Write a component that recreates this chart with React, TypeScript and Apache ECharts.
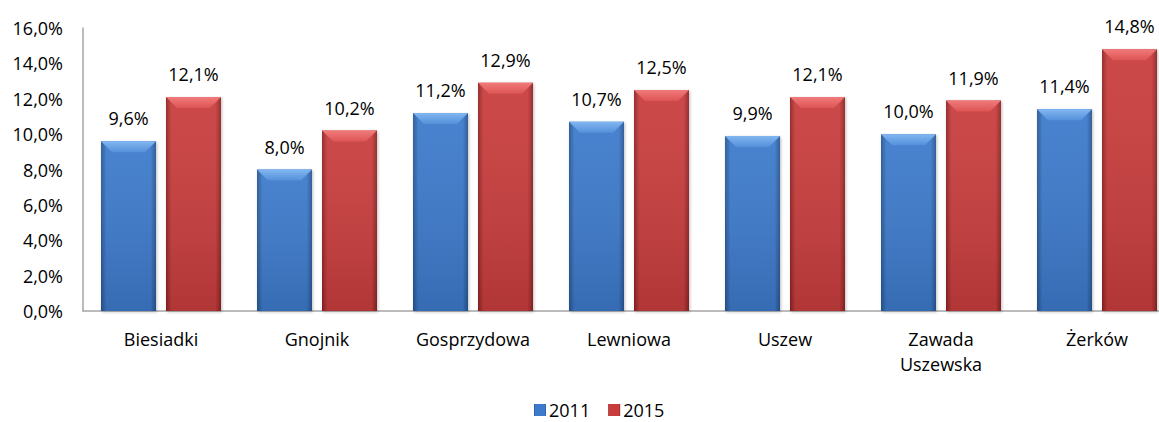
import React, { useEffect, useRef } from "react";
import * as echarts from "echarts";

const categories = ["Biesiadki", "Gnojnik", "Gosprzydowa", "Lewniowa", "Uszew", "Zawada\nUszewska", "Żerków"];
const values2011 = [9.6, 8.0, 11.2, 10.7, 9.9, 10.0, 11.4];
const values2015 = [12.1, 10.2, 12.9, 12.5, 12.1, 11.9, 14.8];
const seriesNames = ["2011", "2015"];

const FONT = "'Open Sans', sans-serif";
const BAR_W = 55;
const GAP = 10;

const fmt = (v: number) => v.toFixed(1).replace(".", ",") + "%";

const hGrad = (edge: string, mid: string) => ({
  type: "linear", x: 0, y: 0, x2: 1, y2: 0,
  colorStops: [
    { offset: 0, color: edge },
    { offset: 0.1, color: mid },
    { offset: 0.9, color: mid },
    { offset: 1, color: edge },
  ],
});

const vGrad = (a: string, b: string) => ({
  type: "linear", x: 0, y: 0, x2: 0, y2: 1,
  colorStops: [
    { offset: 0, color: a },
    { offset: 1, color: b },
  ],
});

function bevel(offset: number, light: string, mid: string) {
  return (params: any, api: any) => {
    const i = api.value(0);
    const v = api.value(1);
    const base = api.coord([i, 0]);
    const top = api.coord([i, v]);
    const cx = base[0] + offset;
    const x0 = cx - BAR_W / 2;
    const x1 = cx + BAR_W / 2;
    const y0 = top[1];
    const b = 11;
    return {
      type: "group",
      children: [
        {
          type: "polygon",
          shape: { points: [[x0, y0], [x1, y0], [x1 - b, y0 + b], [x0 + b, y0 + b]] },
          style: { fill: vGrad(light, mid) },
        },
        {
          type: "rect",
          shape: { x: x0, y: y0, width: BAR_W, height: base[1] - y0 },
          style: {
            fill: {
              type: "linear", x: 0, y: 0, x2: 0, y2: 1,
              colorStops: [
                { offset: 0, color: "rgba(255,255,255,0.06)" },
                { offset: 1, color: "rgba(0,0,0,0.12)" },
              ],
            },
          },
        },
      ],
    };
  };
}

export default function App() {
  const ref = useRef<HTMLDivElement>(null);
  useEffect(() => {
    if (!ref.current) return;
    const chart = echarts.init(ref.current, null, { renderer: "svg" });
    const labelCfg = {
      show: true,
      position: "top",
      distance: 14,
      formatter: (p: any) => fmt(p.value),
      color: "#000",
      fontFamily: FONT,
      fontSize: 18,
    };
    chart.setOption({
      animation: false,
      backgroundColor: "#fff",
      textStyle: { fontFamily: FONT },
      grid: { left: 83, top: 28, width: 1092, height: 283, containLabel: false },
      legend: {
        top: 401,
        left: 534,
        padding: 0,
        itemWidth: 12,
        itemHeight: 12,
        itemGap: 18,
        icon: "rect",
        data: seriesNames,
        textStyle: { color: "#000", fontSize: 18, lineHeight: 18, fontFamily: FONT, padding: [0, 0, 0, -2] },
      },
      xAxis: {
        type: "category",
        data: categories,
        axisLine: { show: true, lineStyle: { color: "#a6a6a6", width: 1.5 } },
        axisTick: { show: false },
        axisLabel: {
          color: "#000",
          fontSize: 18,
          fontFamily: FONT,
          margin: 15,
          lineHeight: 25,
          interval: 0,
        },
      },
      yAxis: {
        type: "value",
        min: 0,
        max: 16,
        interval: 2,
        axisLine: { show: true, lineStyle: { color: "#a6a6a6", width: 1.5 } },
        axisTick: { show: false },
        splitLine: { show: false },
        axisLabel: {
          color: "#000",
          fontSize: 18,
          fontFamily: FONT,
          margin: 20,
          formatter: (v: number) => fmt(v),
        },
      },
      series: [
        {
          name: seriesNames[0],
          type: "bar",
          data: values2011,
          barWidth: BAR_W,
          barGap: (GAP / BAR_W) * 100 + "%",
          itemStyle: { color: hGrad("#2a5694", "#3d7acb"), shadowColor: "rgba(0,0,0,0.25)", shadowBlur: 3, shadowOffsetX: 1, shadowOffsetY: 1 },
          label: labelCfg,
          z: 2,
        },
        {
          name: seriesNames[1],
          type: "bar",
          data: values2015,
          barWidth: BAR_W,
          itemStyle: { color: hGrad("#8e2626", "#c93c3c"), shadowColor: "rgba(0,0,0,0.25)", shadowBlur: 3, shadowOffsetX: 1, shadowOffsetY: 1 },
          label: labelCfg,
          z: 2,
        },
        {
          type: "custom",
          silent: true,
          z: 3,
          renderItem: bevel(-(BAR_W + GAP) / 2, "#7ab2f0", "#4a8ad8"),
          data: values2011.map((v, i) => [i, v]),
        },
        {
          type: "custom",
          silent: true,
          z: 3,
          renderItem: bevel((BAR_W + GAP) / 2, "#f07272", "#dc4a4a"),
          data: values2015.map((v, i) => [i, v]),
        },
      ],
    });
    return () => chart.dispose();
  }, []);
  return (
    <div
      style={{ position: "fixed", left: 0, top: 0, width: 1159, height: 422, overflow: "hidden", background: "#fff" }}
    >
      <div ref={ref} style={{ width: 1190, height: 422 }} />
    </div>
  );
}
